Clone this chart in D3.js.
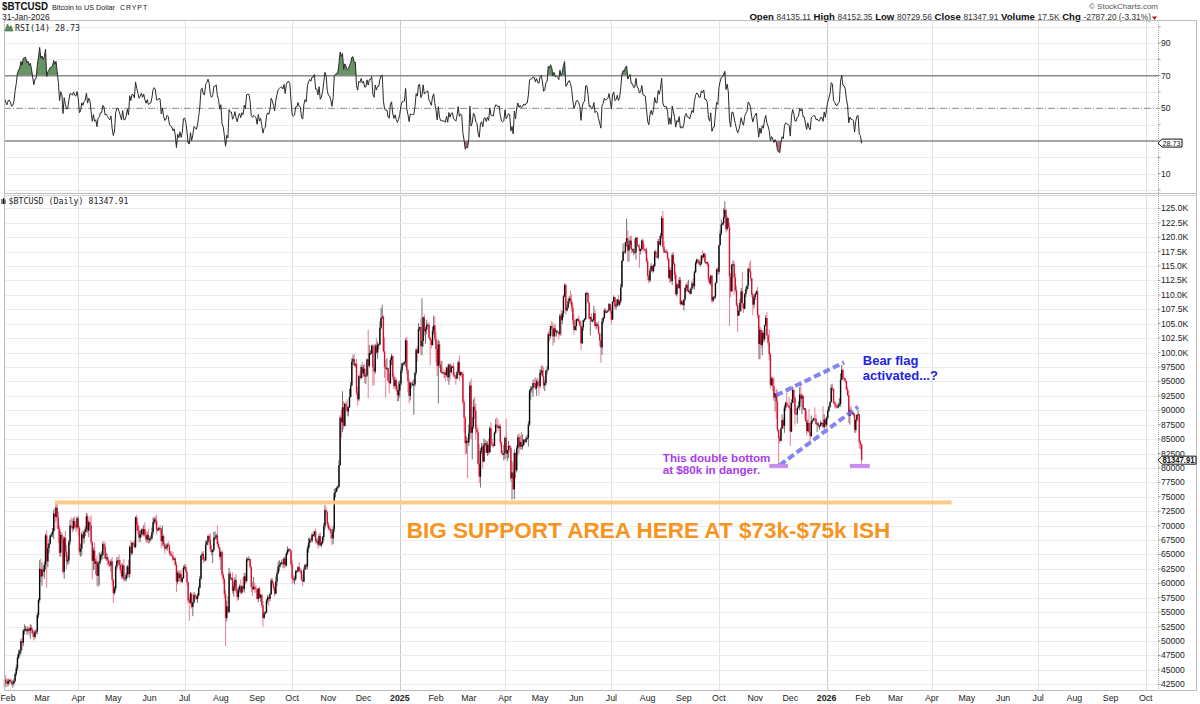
<!DOCTYPE html>
<html><head><meta charset="utf-8">
<script src="https://cdn.jsdelivr.net/npm/d3@7"></script>
<style>
body{margin:0;background:#fff;}
svg{display:block;font-family:"Liberation Sans",Arial,sans-serif;}
</style></head><body>
<svg id="c" width="1200" height="704"></svg>
<script>
// ---------------- DATA (thousand USD, daily closes, BTCUSD) ----------------
// warm-up closes for RSI(14): 1 Dec 2023 .. 28 Jan 2024 (not drawn as candles)
const closesPrior = [38.7,39.5,39.9,41.9,44.1,43.8,43.3,44.2,43.8,43.8,41.2,41.5,43.0,43.0,41.9,42.3,41.4,42.7,42.3,43.7,43.9,44.0,43.7,43.0,43.6,42.5,43.4,42.6,42.1,42.1,42.3,
 44.2,44.9,42.8,44.2,44.2,43.9,43.9,47.0,46.1,46.6,46.3,42.8,42.8,41.7,42.5,43.1,42.7,41.3,41.6,41.6,41.6,39.5,39.8,40.1,39.9,41.8,42.1,42.0];

// 29 Jan 2024 .. 31 Dec 2024
const closes2024 = [43.3,42.9,42.6,
 43.1,43.2,43.0,42.6,42.7,43.1,44.3,45.3,47.1,47.8,48.3,50.0,49.7,51.8,52.0,52.1,51.7,52.1,51.8,52.3,51.9,51.3,50.7,51.6,51.7,54.5,57.1,62.5,61.2,
 62.4,62.0,63.2,68.3,63.8,66.1,66.9,68.3,68.5,69.0,72.1,71.5,73.1,71.4,69.4,65.3,68.4,67.6,62.0,67.9,65.5,63.8,64.0,67.2,70.0,69.9,69.5,70.8,69.9,69.7,71.3,
 69.6,65.5,66.0,68.5,67.8,68.9,69.4,71.6,69.1,70.6,70.0,67.1,63.9,65.7,63.4,63.8,61.3,63.5,63.8,64.9,64.9,66.8,66.4,64.3,64.5,64.0,63.4,63.1,63.8,60.6,
 58.3,59.1,62.9,63.9,64.0,63.2,62.3,61.2,63.1,60.8,60.8,61.5,62.9,61.6,66.3,65.2,67.0,66.9,66.3,71.4,70.1,69.1,67.9,68.5,69.3,68.5,69.4,68.3,67.6,68.4,67.5,
 67.7,67.8,68.8,70.6,71.1,70.8,69.3,69.3,69.6,69.5,67.3,68.2,66.8,66.0,66.2,66.7,66.5,65.2,64.9,64.8,64.1,64.3,63.2,60.3,61.8,60.9,61.6,60.3,60.9,62.7,
 62.8,62.0,60.2,57.0,56.7,58.2,55.9,56.7,58.0,57.7,57.3,57.9,59.2,60.8,64.8,65.1,64.1,64.0,66.7,67.2,68.2,67.6,65.9,65.4,65.8,67.9,68.0,68.3,66.8,66.2,64.6,
 65.4,61.5,60.7,58.1,54.0,56.0,55.0,61.7,60.9,60.9,58.7,59.4,60.6,58.7,57.6,58.9,59.5,58.4,59.5,59.0,61.2,60.4,64.1,64.2,64.2,62.8,59.4,59.0,59.4,59.1,58.9,
 57.3,59.1,57.5,58.0,56.2,54.0,54.8,55.0,57.0,57.6,57.3,58.1,60.5,60.0,59.2,58.2,60.3,61.7,62.9,63.2,63.4,63.6,63.3,64.3,63.1,65.2,65.8,65.9,65.6,63.3,
 60.8,60.6,60.8,62.1,62.1,62.8,62.2,62.1,60.6,60.3,62.4,63.2,62.9,66.0,67.0,67.6,67.4,68.4,68.4,69.0,67.4,67.4,66.7,68.2,66.6,67.0,68.0,69.9,72.7,72.3,70.2,
 69.5,69.4,68.8,67.8,69.4,75.6,75.9,76.5,76.7,80.5,88.7,87.9,90.5,87.3,91.1,90.6,89.8,90.5,92.3,94.3,98.4,98.9,97.8,98.0,93.0,91.9,95.9,95.6,97.5,96.4,
 97.2,95.9,96.0,98.8,97.7,99.9,99.9,101.2,97.4,96.7,101.2,100.0,101.4,101.4,104.3,106.0,106.2,100.2,97.5,97.2,97.3,95.1,94.7,98.7,99.4,95.8,94.2,95.2,93.6,92.6,93.4];

const closes2025 = [
 94.6,96.9,98.1,98.2,98.3,102.1,96.9,95.0,92.5,94.7,94.5,94.5,94.5,96.5,100.5,99.9,104.1,104.4,101.1,102.0,106.1,103.7,104.0,104.7,104.8,102.6,102.1,101.3,103.7,104.7,102.4,
 100.6,97.7,101.4,97.9,96.6,96.6,96.5,96.5,96.1,97.4,95.7,97.9,96.6,97.5,97.6,96.1,95.8,95.5,96.6,98.3,96.1,96.6,96.3,91.4,88.7,84.3,84.7,84.4,
 86.0,94.3,86.1,87.2,90.6,89.9,86.7,86.2,80.7,78.5,82.9,83.7,81.1,84.0,84.3,82.6,84.0,82.7,86.9,84.2,84.0,83.8,86.1,87.5,87.4,86.9,87.2,84.4,82.6,82.3,82.5,
 85.2,82.5,83.1,83.8,83.5,78.2,79.2,76.3,82.6,79.6,83.4,85.3,83.7,84.5,83.7,84.0,84.9,84.5,85.1,85.2,87.5,93.4,93.7,93.9,94.7,94.6,93.8,95.0,94.3,94.2,
 96.5,96.9,95.9,94.3,94.7,96.8,97.0,103.2,102.9,104.6,104.1,102.8,104.2,103.5,103.7,103.5,103.2,106.4,105.6,106.8,109.7,111.7,107.3,107.8,108.9,109.4,108.9,107.8,105.6,103.9,104.6,
 105.7,105.8,105.4,104.7,101.6,104.4,105.6,105.8,110.3,110.3,108.7,105.9,106.1,105.4,105.6,106.8,104.6,104.9,104.6,103.3,102.1,100.9,105.4,106.0,107.3,106.9,107.1,107.3,108.4,107.2,
 105.7,108.8,109.6,108.0,108.2,109.2,108.3,108.9,111.3,115.9,117.5,117.4,119.1,119.8,117.7,118.7,119.4,117.9,117.9,117.3,117.4,119.9,118.6,118.3,117.6,117.9,119.4,118.0,117.9,117.8,115.8,
 113.3,112.5,114.2,115.0,114.1,115.0,117.5,116.6,116.5,119.3,118.7,120.2,123.3,118.3,117.4,117.5,117.4,116.3,112.9,114.3,112.4,116.9,115.4,113.5,110.1,111.8,111.2,112.6,108.4,108.8,108.2,
 109.2,111.2,111.7,110.7,110.7,110.2,111.1,112.0,111.5,113.9,115.5,116.1,115.9,115.3,115.4,116.8,116.5,117.1,115.7,115.7,115.3,112.7,112.0,113.3,109.0,109.6,109.7,112.1,114.4,114.0,
 118.6,120.6,122.2,122.4,123.5,124.7,121.4,123.3,121.7,113.2,110.6,115.2,115.3,113.0,110.8,108.2,106.4,107.2,108.6,110.6,108.5,107.6,110.1,111.0,111.6,114.5,114.1,112.9,110.1,108.3,109.6,
 110.1,110.6,106.5,101.5,103.9,101.3,103.4,102.3,104.7,106.0,103.0,101.7,99.7,94.4,95.5,94.2,92.2,92.9,91.5,86.6,85.1,84.7,86.8,88.3,87.3,90.5,91.3,90.9,90.8,90.4,
 86.3,91.3,93.5,92.1,89.4,89.3,90.4,90.6,92.7,92.0,92.5,90.3,90.3,88.2,86.4,87.8,86.2,85.5,88.1,88.3,88.6,88.5,87.6,87.7,87.3,87.3,87.8,87.8,87.1,88.4,87.5];

const closes2026 = [88.7,89.9,90.6,91.4,93.9,93.7,91.3,91.0,90.6,90.5,90.9,91.1,95.3,97.0,95.6,95.5,95.1,93.6,92.6,89.0,90.0,89.5,89.5,89.2,86.6,88.3,89.2,89.3,84.5,84.1,81.35];

// upper wick beyond the body (thousand USD)
const upWick2024 = [0.4,0.8,0.6,
 0.4,0.3,0.2,0.4,0.5,0.4,0.3,0.6,0.6,0.7,0.3,0.4,0.6,0.3,0.9,0.5,0.4,0.4,0.3,0.6,0.5,0.4,0.4,0.4,0.3,0.4,0.3,1.5,1.8,
 1.2,0.5,0.6,0.3,0.9,0.8,0.7,0.1,0.3,0.6,0.7,1.1,0.7,0.7,1.0,0.6,0.6,0.5,0.6,0.2,1.2,1.1,0.8,0.3,1.0,1.4,1.3,0.6,0.8,0.4,0.3,
 0.4,0.4,0.9,0.4,0.6,0.3,0.5,0.6,0.4,0.3,0.8,1.8,0.2,0.5,1.4,0.5,1.0,0.2,1.6,0.3,0.7,0.4,0.5,0.7,0.8,0.6,0.5,0.4,0.4,0.8,
 0.2,0.4,0.3,0.6,0.6,1.0,0.9,1.2,0.3,1.1,0.3,0.4,0.3,1.2,0.3,1.1,0.2,0.3,0.6,0.2,0.5,0.6,0.7,0.6,0.2,0.4,0.7,1.2,0.8,0.5,1.1,
 0.4,0.5,0.9,0.8,0.4,0.5,1.1,0.3,0.2,0.5,0.1,1.8,0.3,0.3,0.3,0.3,0.6,0.4,0.4,0.7,0.6,0.1,0.3,0.5,0.4,0.4,0.6,0.7,0.2,0.4,
 0.5,0.5,0.4,0.1,0.5,0.3,0.2,0.1,0.5,0.3,0.2,0.4,0.3,0.5,0.1,0.4,0.5,0.5,0.7,0.3,0.2,0.4,1.0,0.7,0.1,1.0,1.0,0.3,1.7,0.5,0.2,
 0.2,0.4,0.5,0.3,0.8,1.0,1.8,1.0,0.4,0.1,1.0,0.8,0.5,1.0,0.5,0.4,0.3,1.2,0.2,1.6,0.6,0.6,0.4,0.3,0.5,0.1,0.3,0.9,1.7,0.7,0.6,
 0.1,0.1,0.3,0.2,0.2,0.7,0.3,0.2,0.3,0.4,0.3,0.3,0.4,0.4,0.2,0.3,0.9,0.5,0.9,0.8,0.3,0.5,0.7,0.3,0.5,0.3,0.6,0.1,0.2,0.3,
 0.8,0.7,0.4,0.2,0.2,0.2,0.9,0.4,0.4,0.9,0.4,0.2,0.2,0.5,0.9,0.3,0.4,0.4,0.2,0.1,0.5,0.4,0.4,0.4,0.6,0.3,0.2,0.6,0.9,0.5,0.3,
 0.5,0.4,0.4,0.2,0.6,0.8,0.6,0.3,0.3,0.8,0.4,1.3,2.8,1.1,0.2,0.4,1.3,0.2,1.4,0.6,0.6,0.7,0.9,0.2,0.9,1.1,0.3,0.8,0.4,0.8,
 0.6,0.8,0.3,0.2,5.1,1.4,0.5,0.1,0.3,1.2,0.3,1.3,0.5,0.2,1.1,1.7,2.1,0.3,2.4,1.2,1.7,0.1,1.3,0.4,0.4,0.1,0.5,0.5,0.3,0.7,1.6];
const upWick2025 = [
 0.6,0.6,0.1,0.1,0.2,0.4,0.6,0.3,0.5,0.2,0.1,0.6,0.9,0.1,0.2,0.6,1.0,0.1,1.5,7.4,0.1,0.5,0.4,1.0,0.3,0.5,0.1,0.2,0.8,1.7,1.5,
 1.2,1.4,0.8,0.6,0.6,2.0,0.6,0.2,0.5,0.1,0.5,0.2,0.3,0.4,0.1,0.6,0.5,0.4,0.3,0.3,1.2,0.1,0.1,0.4,0.5,0.3,0.8,0.5,
 1.5,0.7,1.2,1.6,1.3,1.7,1.3,0.8,0.8,3.4,0.5,0.6,0.6,1.1,0.6,0.5,0.6,1.1,0.3,1.0,0.9,0.4,0.2,1.0,1.3,1.1,0.3,0.5,0.2,0.5,1.5,
 0.3,3.3,0.0,0.9,0.2,0.4,2.0,1.6,0.6,0.1,0.5,0.5,0.7,1.1,1.7,1.8,0.1,0.1,0.4,0.6,0.6,0.2,0.5,0.3,0.6,0.8,1.1,0.4,0.7,0.9,
 0.6,0.8,0.9,1.6,0.5,0.2,0.7,0.4,0.9,0.1,0.9,1.1,0.5,0.8,0.2,0.3,0.1,0.3,1.0,0.4,0.3,0.3,0.2,0.5,0.5,0.4,1.3,1.2,0.8,1.1,0.0,
 0.2,0.1,0.6,0.2,0.9,0.1,0.1,0.2,0.0,0.3,0.1,0.0,0.1,0.7,0.2,1.3,0.7,0.4,0.3,0.9,0.1,0.2,0.5,0.2,0.3,0.4,0.1,0.1,0.2,0.1,
 0.8,0.1,0.3,0.0,0.3,0.1,0.8,0.2,0.6,0.1,1.4,0.1,0.0,3.4,1.4,0.7,0.8,0.9,0.1,0.2,2.3,0.1,0.1,0.1,0.5,0.1,0.2,0.4,0.8,0.1,0.4,
 0.6,0.3,0.4,0.5,0.2,0.3,0.2,0.4,0.2,0.4,0.9,0.5,0.4,1.2,1.0,0.3,0.5,0.3,0.1,0.5,0.4,0.4,0.5,0.2,0.5,0.3,0.2,0.5,0.5,0.3,0.3,
 0.0,0.1,0.3,0.6,1.9,0.3,0.2,0.4,0.9,0.3,0.4,0.2,0.1,0.3,0.4,0.1,0.9,0.2,0.2,0.0,0.1,0.3,0.4,0.2,0.1,0.1,0.1,0.0,0.2,0.4,
 0.1,0.6,0.9,0.2,1.5,1.5,0.4,0.3,0.0,0.8,0.6,0.2,0.7,0.4,0.7,0.8,0.4,0.2,0.7,0.6,3.4,0.0,0.2,0.4,0.0,0.2,1.1,1.9,0.0,0.2,0.2,
 0.3,0.2,0.8,0.1,0.6,0.4,0.5,0.2,0.1,0.5,1.0,0.3,2.3,0.3,0.3,0.3,1.5,0.1,0.8,2.0,0.1,0.4,0.3,1.0,0.4,0.4,0.2,1.8,0.1,1.5,
 1.0,0.6,0.6,0.3,0.4,0.1,0.4,0.9,1.3,1.8,0.4,0.1,0.1,0.1,1.7,0.6,2.4,1.6,1.0,0.1,0.1,1.9,0.8,0.2,0.3,0.2,0.4,0.1,2.9,0.9,0.2];
const upWick2026 = [0.2,0.3,0.2,0.1,0.6,0.7,0.1,0.3,0.5,0.1,0.4,1.0,1.1,0.9,0.1,0.1,0.1,0.0,0.5,0.8,0.5,0.8,0.1,0.2,0.4,0.1,0.1,0.7,0.1,0.3,0.02];

// lower wick beyond the body (thousand USD)
const dnWick2024 = [0.3,0.4,0.6,
 0.4,0.6,0.3,0.3,0.7,0.4,0.3,0.4,0.5,0.2,0.4,0.6,1.3,0.6,0.7,0.4,0.7,0.5,0.8,1.4,0.6,0.6,0.6,0.4,0.4,0.6,0.5,0.4,1.0,
 1.6,0.8,1.2,0.8,4.6,1.0,0.9,0.2,0.3,0.5,1.3,2.3,0.8,2.0,2.4,0.6,0.7,0.7,0.4,1.2,0.9,1.4,0.6,0.6,0.5,0.4,0.7,0.4,0.4,0.8,0.4,
 1.3,0.6,0.9,1.2,0.8,0.9,0.7,0.6,0.4,1.1,0.6,0.5,3.2,1.6,1.0,1.9,1.7,1.9,3.8,0.5,0.8,0.7,0.6,0.1,0.4,0.8,0.5,0.3,1.1,0.9,
 1.7,0.3,0.5,0.5,0.6,0.3,0.5,0.5,0.4,0.5,0.3,0.5,0.6,0.5,0.7,0.5,0.3,0.5,0.3,0.2,1.0,0.6,0.9,0.7,0.5,0.2,0.4,0.3,0.6,0.5,0.6,
 0.5,0.4,0.2,0.4,0.4,0.6,0.8,0.2,0.2,0.7,1.2,0.8,0.5,0.8,0.1,0.6,0.1,0.4,0.2,0.2,0.3,0.1,0.2,1.8,0.5,0.6,0.6,0.3,0.2,0.1,
 0.3,0.2,0.5,0.5,3.2,0.3,0.3,1.6,0.2,0.5,0.2,0.7,0.2,0.1,0.2,0.7,0.6,0.2,0.2,0.1,0.6,0.7,0.5,0.6,1.9,0.3,0.4,0.4,0.4,0.2,0.5,
 2.3,0.4,0.8,0.7,4.9,0.6,0.3,0.1,0.5,0.3,0.5,1.0,0.5,0.4,0.7,0.5,0.5,0.4,0.2,0.4,0.6,0.6,0.3,0.4,0.2,0.3,0.9,1.2,0.2,0.8,0.5,
 0.1,0.6,0.2,0.7,0.4,1.5,0.2,0.2,0.2,0.5,1.2,0.4,0.1,0.3,0.4,0.5,0.1,0.8,0.1,0.8,0.4,0.1,0.6,0.7,0.3,0.2,0.3,0.4,0.1,0.5,
 0.9,0.5,0.8,0.4,0.2,0.2,0.2,0.5,0.2,0.8,0.1,0.1,0.5,0.5,0.7,0.7,0.3,0.3,0.3,0.4,0.5,0.5,0.7,0.3,0.2,0.3,0.2,0.6,0.5,0.2,0.5,
 0.3,0.3,1.1,1.2,1.0,0.5,0.7,0.1,0.2,0.1,0.1,2.7,1.7,0.6,0.1,0.6,0.8,0.9,0.1,0.1,0.1,0.5,0.2,0.4,0.4,1.1,0.3,0.4,0.2,0.8,
 0.6,1.2,1.4,0.2,5.6,0.3,0.3,0.2,3.2,2.4,0.4,0.3,1.1,0.9,0.1,0.3,0.1,0.2,1.9,5.0,0.3,0.2,1.8,0.2,0.9,0.5,0.6,0.3,0.4,1.1,1.0];
const dnWick2025 = [
 1.2,0.4,0.5,0.4,0.4,0.8,0.7,1.9,1.3,0.8,0.6,0.3,5.3,0.4,0.4,1.5,0.1,0.4,1.4,1.6,1.0,0.8,2.2,0.8,0.2,0.2,4.3,0.6,0.1,0.6,0.4,
 2.3,1.8,6.5,0.6,0.1,0.2,0.4,0.9,1.0,0.3,0.6,1.3,1.5,0.3,0.2,0.3,0.4,1.1,0.1,0.4,1.0,0.2,0.7,0.4,2.6,2.0,1.8,6.2,
 0.6,1.0,1.1,4.6,0.4,1.4,1.8,0.4,0.2,1.1,1.9,0.5,1.2,0.1,0.3,0.0,0.5,0.5,0.1,0.5,0.3,0.3,0.0,0.2,0.5,0.6,0.1,0.6,0.2,0.1,1.0,
 0.9,0.8,1.3,1.4,0.8,0.6,3.7,0.0,1.7,1.4,0.4,1.2,1.2,0.5,0.5,0.5,0.2,0.3,0.2,0.2,1.5,0.2,1.6,0.7,1.6,0.6,0.3,1.3,0.1,1.7,
 0.4,0.4,0.2,0.6,1.0,0.4,0.6,0.0,1.0,0.5,0.1,1.6,1.1,0.8,0.7,0.2,0.9,0.3,2.7,0.7,0.7,0.1,0.7,0.2,0.2,0.4,0.6,0.7,0.7,0.8,0.1,
 0.8,0.3,0.3,0.1,1.2,0.1,0.6,0.3,0.2,0.3,0.2,0.3,2.9,0.1,0.2,0.1,0.3,0.6,0.4,0.1,1.0,2.7,1.3,0.4,0.2,0.1,0.1,0.1,0.0,0.4,
 0.8,0.0,0.1,0.5,0.6,0.3,0.2,0.3,0.3,0.0,0.1,0.3,0.3,0.7,2.0,1.9,0.6,0.7,0.5,0.5,0.2,1.3,0.1,0.0,2.9,0.6,0.1,0.4,0.5,0.6,0.2,
 0.8,0.5,0.3,0.2,0.3,0.2,0.2,0.0,0.2,0.3,0.0,0.3,0.4,0.4,0.2,0.0,0.2,0.4,0.1,0.8,0.3,0.7,0.3,0.8,0.2,0.4,0.2,0.2,0.3,0.1,0.0,
 0.9,0.3,0.7,0.1,0.3,0.1,0.1,0.2,0.4,0.6,0.1,0.2,0.1,0.1,0.4,0.2,0.5,0.2,0.3,0.4,0.3,0.5,0.2,0.4,0.4,0.3,0.4,0.4,0.1,0.6,
 0.4,0.0,0.3,0.1,0.4,0.2,0.6,0.3,0.1,8.6,1.0,0.0,0.2,3.0,0.3,0.2,2.9,0.0,0.2,1.5,0.8,0.8,0.1,0.6,0.4,0.6,0.2,0.5,0.5,1.9,0.6,
 0.5,0.1,0.6,2.6,2.7,0.5,1.8,0.6,0.4,0.1,0.2,0.5,1.1,0.6,0.2,0.9,0.6,2.4,3.0,0.3,4.5,0.5,0.1,0.0,0.5,1.2,0.6,0.5,0.1,0.2,
 2.5,0.1,0.0,0.9,1.9,0.2,1.6,0.1,0.6,0.7,2.7,0.3,0.3,0.2,0.8,0.3,0.1,1.2,0.1,0.4,0.2,0.5,0.1,1.4,0.3,0.7,0.1,0.3,0.2,0.4,0.5];
const dnWick2026 = [0.4,0.4,0.2,0.2,0.1,0.4,0.2,0.6,0.4,0.1,0.2,0.3,0.5,0.1,0.4,0.5,0.4,0.1,0.2,1.2,1.5,0.3,0.2,0.3,0.5,0.5,0.3,0.1,1.1,0.9,0.62];

const firstDay = "2024-01-29";
const priceTicks = d3.range(42500, 125001, 2500);
const rsiLabels = [10, 50, 70, 90];          // the "30" label is hidden under the value tag
const rsiLast = 28.73;
const lastClose = 81347.91;
const headerQuote = [["Open","84135.11"],["High","84152.35"],["Low","80729.56"],["Close","81347.91"],["Volume","17.5K"],["Chg","-2787.20 (-3.31%)"]];

// annotations (date, price)
const supportLine = [["2024-03-12", 74000], ["2026-04-18", 74000]];
const supportText = {date:"2025-01-07", price:67900, text:"BIG SUPPORT AREA HERE AT $73k-$75k ISH"};
const flagUpper = [["2025-11-19", 92600], ["2026-01-16", 98300]];
const flagLower = [["2025-11-22", 80500], ["2026-01-28", 90600]];
const bottomMarks = [[["2025-11-13", 80350], ["2025-11-29", 80350]], [["2026-01-21", 80350], ["2026-02-07", 80350]]];
const purpleText = {date:"2025-08-14", price:81100, lines:["This double bottom","at $80k in danger."]};
const blueText = {date:"2026-02-01", price:97800, lines:["Bear flag","activated...?"]};

// ---------------- BUILD ----------------
const svg = d3.select("#c");
const closes = [...closes2024, ...closes2025, ...closes2026].map(v => v*1000);
const upW = [...upWick2024, ...upWick2025, ...upWick2026];
const dnW = [...dnWick2024, ...dnWick2025, ...dnWick2026];
const pd = s => new Date(s + "T00:00:00Z");
const DAY = 864e5;
const t0 = pd(firstDay).getTime();
const prevClose0 = closesPrior[closesPrior.length-1]*1000;
const candles = closes.map((c,i) => {
  const o = i === 0 ? prevClose0 : closes[i-1];
  return {date:new Date(t0 + i*DAY), o, c,
    hi: Math.max(o,c) + (upW[i]||0)*1000, lo: Math.min(o,c) - (dnW[i]||0)*1000, up: c >= o};
});

// RSI(14), Wilder smoothing
const allC = [...closesPrior, ...closes2024, ...closes2025, ...closes2026];
const rsiAll = []; let ag = 0, al = 0;
for (let i = 1; i < allC.length; i++) {
  const ch = allC[i] - allC[i-1], g = Math.max(ch,0), l = Math.max(-ch,0);
  if (i <= 14) { ag += g/14; al += l/14; if (i === 14) rsiAll[i] = 100 - 100/(1+ag/al); }
  else { ag = (ag*13+g)/14; al = (al*13+l)/14; rsiAll[i] = al === 0 ? 100 : 100 - 100/(1+ag/al); }
}
const rsi = candles.map((d,i) => ({date:d.date, v:rsiAll[i + closesPrior.length]}));

// scales
const L = 4, R = 1158;
const x = d3.scaleUtc().domain([Date.UTC(2024,0,28,12), Date.UTC(2026,9,11,12)]).range([L, R]);
const y = d3.scaleLinear().domain([42500,125000]).range([684.3,208.3]);
const ry = d3.scaleLinear().domain([0,100]).range([190,26.7]);
const RT = 20, RB = 193, MT = 195, MB = 690;

// header
const hdr = svg.append("g");
hdr.append("text").attr("x",2).attr("y",10).attr("font-size",10.5).attr("font-weight","bold").attr("fill","#111").attr("textLength",46).attr("lengthAdjust","spacingAndGlyphs").text("$BTCUSD");
hdr.append("text").attr("x",52).attr("y",10).attr("font-size",8).attr("fill","#222").attr("textLength",63).attr("lengthAdjust","spacingAndGlyphs").text("Bitcoin to US Dollar");
hdr.append("text").attr("x",120).attr("y",10).attr("font-size",7).attr("fill","#222").attr("letter-spacing",0.9).text("CRYPT");
hdr.append("text").attr("x",2).attr("y",19.5).attr("font-size",8.5).attr("fill","#222").text("31-Jan-2026");
hdr.append("text").attr("x",1158).attr("y",8.5).attr("font-size",8).attr("fill","#555").attr("text-anchor","end").text("\u00A9 StockCharts.com");
const q = hdr.append("text").attr("x",1151).attr("y",19.5).attr("text-anchor","end").attr("fill","#111");
headerQuote.forEach(([k,v],i) => {
  q.append("tspan").attr("font-weight","bold").attr("font-size",9.6).text((i? "  ":"") + k + " ");
  q.append("tspan").attr("font-size",8.4).attr("fill","#333").text(v);
});
hdr.append("path").attr("d","M1152,16.5 L1157,16.5 L1154.5,20 Z").attr("fill","#c0102a");

// panels grid
const g = svg.append("g");
const qLines = d3.utcMonth.every(3).range(Date.UTC(2024,3,1), Date.UTC(2026,10,1));
[[RT,RB],[MT,MB]].forEach(([t,b]) => {
  g.selectAll(null).data(qLines).join("line")
    .attr("x1",d=>Math.round(x(d))+0.5).attr("x2",d=>Math.round(x(d))+0.5).attr("y1",t).attr("y2",b)
    .attr("stroke",d=>d.getUTCMonth()===0 ? "#c9c9c9" : "#e2e2e2").attr("stroke-width",1);
});
g.selectAll(null).data(d3.range(0,101,10).filter(v=>v!==30&&v!==50&&v!==70)).join("line")
  .attr("x1",L).attr("x2",R).attr("y1",d=>Math.round(ry(d))+0.5).attr("y2",d=>Math.round(ry(d))+0.5)
  .attr("stroke","#ebebeb");
g.selectAll(null).data(priceTicks).join("line")
  .attr("x1",L).attr("x2",R).attr("y1",d=>Math.round(y(d))+0.5).attr("y2",d=>Math.round(y(d))+0.5)
  .attr("stroke","#ebebeb");

// RSI
const rs = svg.append("g");
rs.append("path").datum(rsi).attr("fill","#5f8d5f").attr("opacity",0.95)
  .attr("d", d3.area().x(d=>x(d.date)).y0(ry(70)).y1(d=>ry(Math.max(d.v,70))));
rs.append("path").datum(rsi).attr("fill","#b8606c").attr("opacity",0.95)
  .attr("d", d3.area().x(d=>x(d.date)).y0(ry(30)).y1(d=>ry(Math.min(d.v,30))));
rs.append("line").attr("x1",L).attr("x2",R).attr("y1",ry(70)).attr("y2",ry(70)).attr("stroke","#8a8a8a").attr("stroke-width",1.4);
rs.append("line").attr("x1",L).attr("x2",R).attr("y1",ry(30)).attr("y2",ry(30)).attr("stroke","#8a8a8a").attr("stroke-width",1.4);
rs.append("line").attr("x1",L).attr("x2",R).attr("y1",ry(50)).attr("y2",ry(50)).attr("stroke","#8a8a8a").attr("stroke-width",1).attr("stroke-dasharray","7,2,1,2");
rs.append("path").datum(rsi).attr("fill","none").attr("stroke","#2a2a2a").attr("stroke-width",1)
  .attr("d", d3.line().x(d=>x(d.date)).y(d=>ry(d.v)));

// candles
const cg = svg.append("g");
cg.selectAll("line.w").data(candles).join("line").attr("class","w")
  .attr("x1",d=>x(d.date)).attr("x2",d=>x(d.date)).attr("y1",d=>y(d.hi)).attr("y2",d=>y(d.lo))
  .attr("stroke",d=>d.up ? "#707070" : "#ec7d93").attr("stroke-width",1);
cg.selectAll("rect").data(candles).join("rect")
  .attr("x",d=>x(d.date)-0.7).attr("width",1.4)
  .attr("y",d=>y(Math.max(d.o,d.c))).attr("height",d=>Math.max(1, Math.abs(y(d.o)-y(d.c))))
  .attr("fill",d=>d.up ? "#0a0a0a" : "#d3102f");

// annotations
const an = svg.append("g");
const pt = p => [x(pd(p[0])), y(p[1])];
an.append("line").attr("x1",pt(supportLine[0])[0]).attr("y1",pt(supportLine[0])[1]).attr("x2",pt(supportLine[1])[0]).attr("y2",pt(supportLine[1])[1])
  .attr("stroke","#fbc98c").attr("stroke-width",4);
an.append("text").attr("x",x(pd(supportText.date))).attr("y",y(supportText.price))
  .attr("font-size",22.5).attr("font-weight","bold").attr("fill","#f7941d").text(supportText.text);
[flagUpper, flagLower].forEach(seg => {
  an.append("line").attr("x1",pt(seg[0])[0]).attr("y1",pt(seg[0])[1]).attr("x2",pt(seg[1])[0]).attr("y2",pt(seg[1])[1])
    .attr("stroke","#6f6ff0").attr("stroke-opacity",0.85).attr("stroke-width",4).attr("stroke-dasharray","7,3.5");
});
bottomMarks.forEach(seg => {
  an.append("line").attr("x1",pt(seg[0])[0]).attr("y1",pt(seg[0])[1]).attr("x2",pt(seg[1])[0]).attr("y2",pt(seg[1])[1])
    .attr("stroke","#c88cf0").attr("stroke-width",4);
});
const pT = an.append("text").attr("font-size",11.6).attr("font-weight","bold").attr("fill","#a83cf0");
purpleText.lines.forEach((s,i) => pT.append("tspan").attr("x",x(pd(purpleText.date))).attr("y",y(purpleText.price)+i*12).text(s));
const bT = an.append("text").attr("font-size",13).attr("font-weight","bold").attr("fill","#2222e6");
blueText.lines.forEach((s,i) => bT.append("tspan").attr("x",x(pd(blueText.date))).attr("y",y(blueText.price)+i*14.4).text(s));

// borders
const bd = svg.append("g").attr("fill","none");
bd.append("rect").attr("x",L+0.5).attr("y",RT+0.5).attr("width",1196-L).attr("height",MB-RT).attr("stroke","#bdbdbd");
bd.append("line").attr("x1",L).attr("x2",1197).attr("y1",MT-1.5).attr("y2",MT-1.5).attr("stroke","#bdbdbd");
bd.append("line").attr("x1",L).attr("x2",1197).attr("y1",MT+0.5).attr("y2",MT+0.5).attr("stroke","#d5d5d5");
bd.append("line").attr("x1",R+0.5).attr("x2",R+0.5).attr("y1",RT).attr("y2",MB).attr("stroke","#aaa").attr("stroke-dasharray","1,1");

// y axes labels
const ax = svg.append("g").attr("font-size",8.6).attr("fill","#222");
ax.selectAll("text.p").data(priceTicks).join("text").attr("class","p")
  .attr("x",1161).attr("y",d=>y(d)+3).text(d => d >= 100000 ? (d/1000).toFixed(1)+"K" : d);
ax.selectAll("line.pt").data(priceTicks).join("line").attr("class","pt")
  .attr("x1",R).attr("x2",R+2.5).attr("y1",d=>y(d)).attr("y2",d=>y(d)).attr("stroke","#999");
ax.selectAll("text.r").data(rsiLabels).join("text").attr("class","r")
  .attr("x",1161).attr("y",d=>ry(d)+3).text(d=>d);
ax.selectAll("line.rt").data(d3.range(0,101,10)).join("line").attr("class","rt")
  .attr("x1",R).attr("x2",R+2.5).attr("y1",d=>ry(d)).attr("y2",d=>ry(d)).attr("stroke","#999");

// value tags
function tagBox(cy, x2, label, fs, bold){
  const gg = svg.append("g");
  gg.append("path").attr("d",`M${R},${cy} L${R+4},${cy-4} L${x2},${cy-4} L${x2},${cy+4} L${R+4},${cy+4} Z`)
    .attr("fill","#fff").attr("stroke","#111").attr("stroke-width",1);
  gg.append("text").attr("x",R+4.5).attr("y",cy+3).attr("font-size",fs).attr("font-weight",bold?"bold":"normal")
    .attr("fill","#111").attr("textLength",x2-R-6).attr("lengthAdjust","spacingAndGlyphs").text(label);
}
tagBox(ry(rsiLast), 1182, rsiLast.toFixed(2), 8, false);
tagBox(y(lastClose), 1196, lastClose.toFixed(2), 8.5, true);

// x axis labels
const months = d3.utcMonth.range(Date.UTC(2024,1,1), Date.UTC(2026,10,1));
svg.append("g").selectAll("text").data(months).join("text")
  .attr("x",d=>x(d)).attr("y",701).attr("text-anchor","middle").attr("font-size",8.8)
  .attr("font-weight",d=>d.getUTCMonth()===0 ? "bold" : "normal").attr("fill","#222")
  .text(d => d.getUTCMonth()===0 ? d3.utcFormat("%Y")(d) : d3.utcFormat("%b")(d));

// legends
const lg = svg.append("g").attr("font-family","'DejaVu Sans Mono',monospace").attr("font-size",8.3).attr("fill","#222");
lg.append("path").attr("d","M5,31 L7.5,24 L9.5,28 L11,25.5 L13,31 Z").attr("fill","#5f8d5f").attr("stroke","#2e5a2e").attr("stroke-width",0.6);
lg.append("text").attr("x",15).attr("y",30.8).text("RSI(14) " + rsiLast.toFixed(2));
lg.append("path").attr("d","M2,204 L2,199 M3.5,204 L3.5,198 M5,204 L5,199.5").attr("stroke","#111").attr("stroke-width",1);
lg.append("text").attr("x",8.5).attr("y",204).text("$BTCUSD (Daily) " + lastClose.toFixed(2));
</script></body></html>
